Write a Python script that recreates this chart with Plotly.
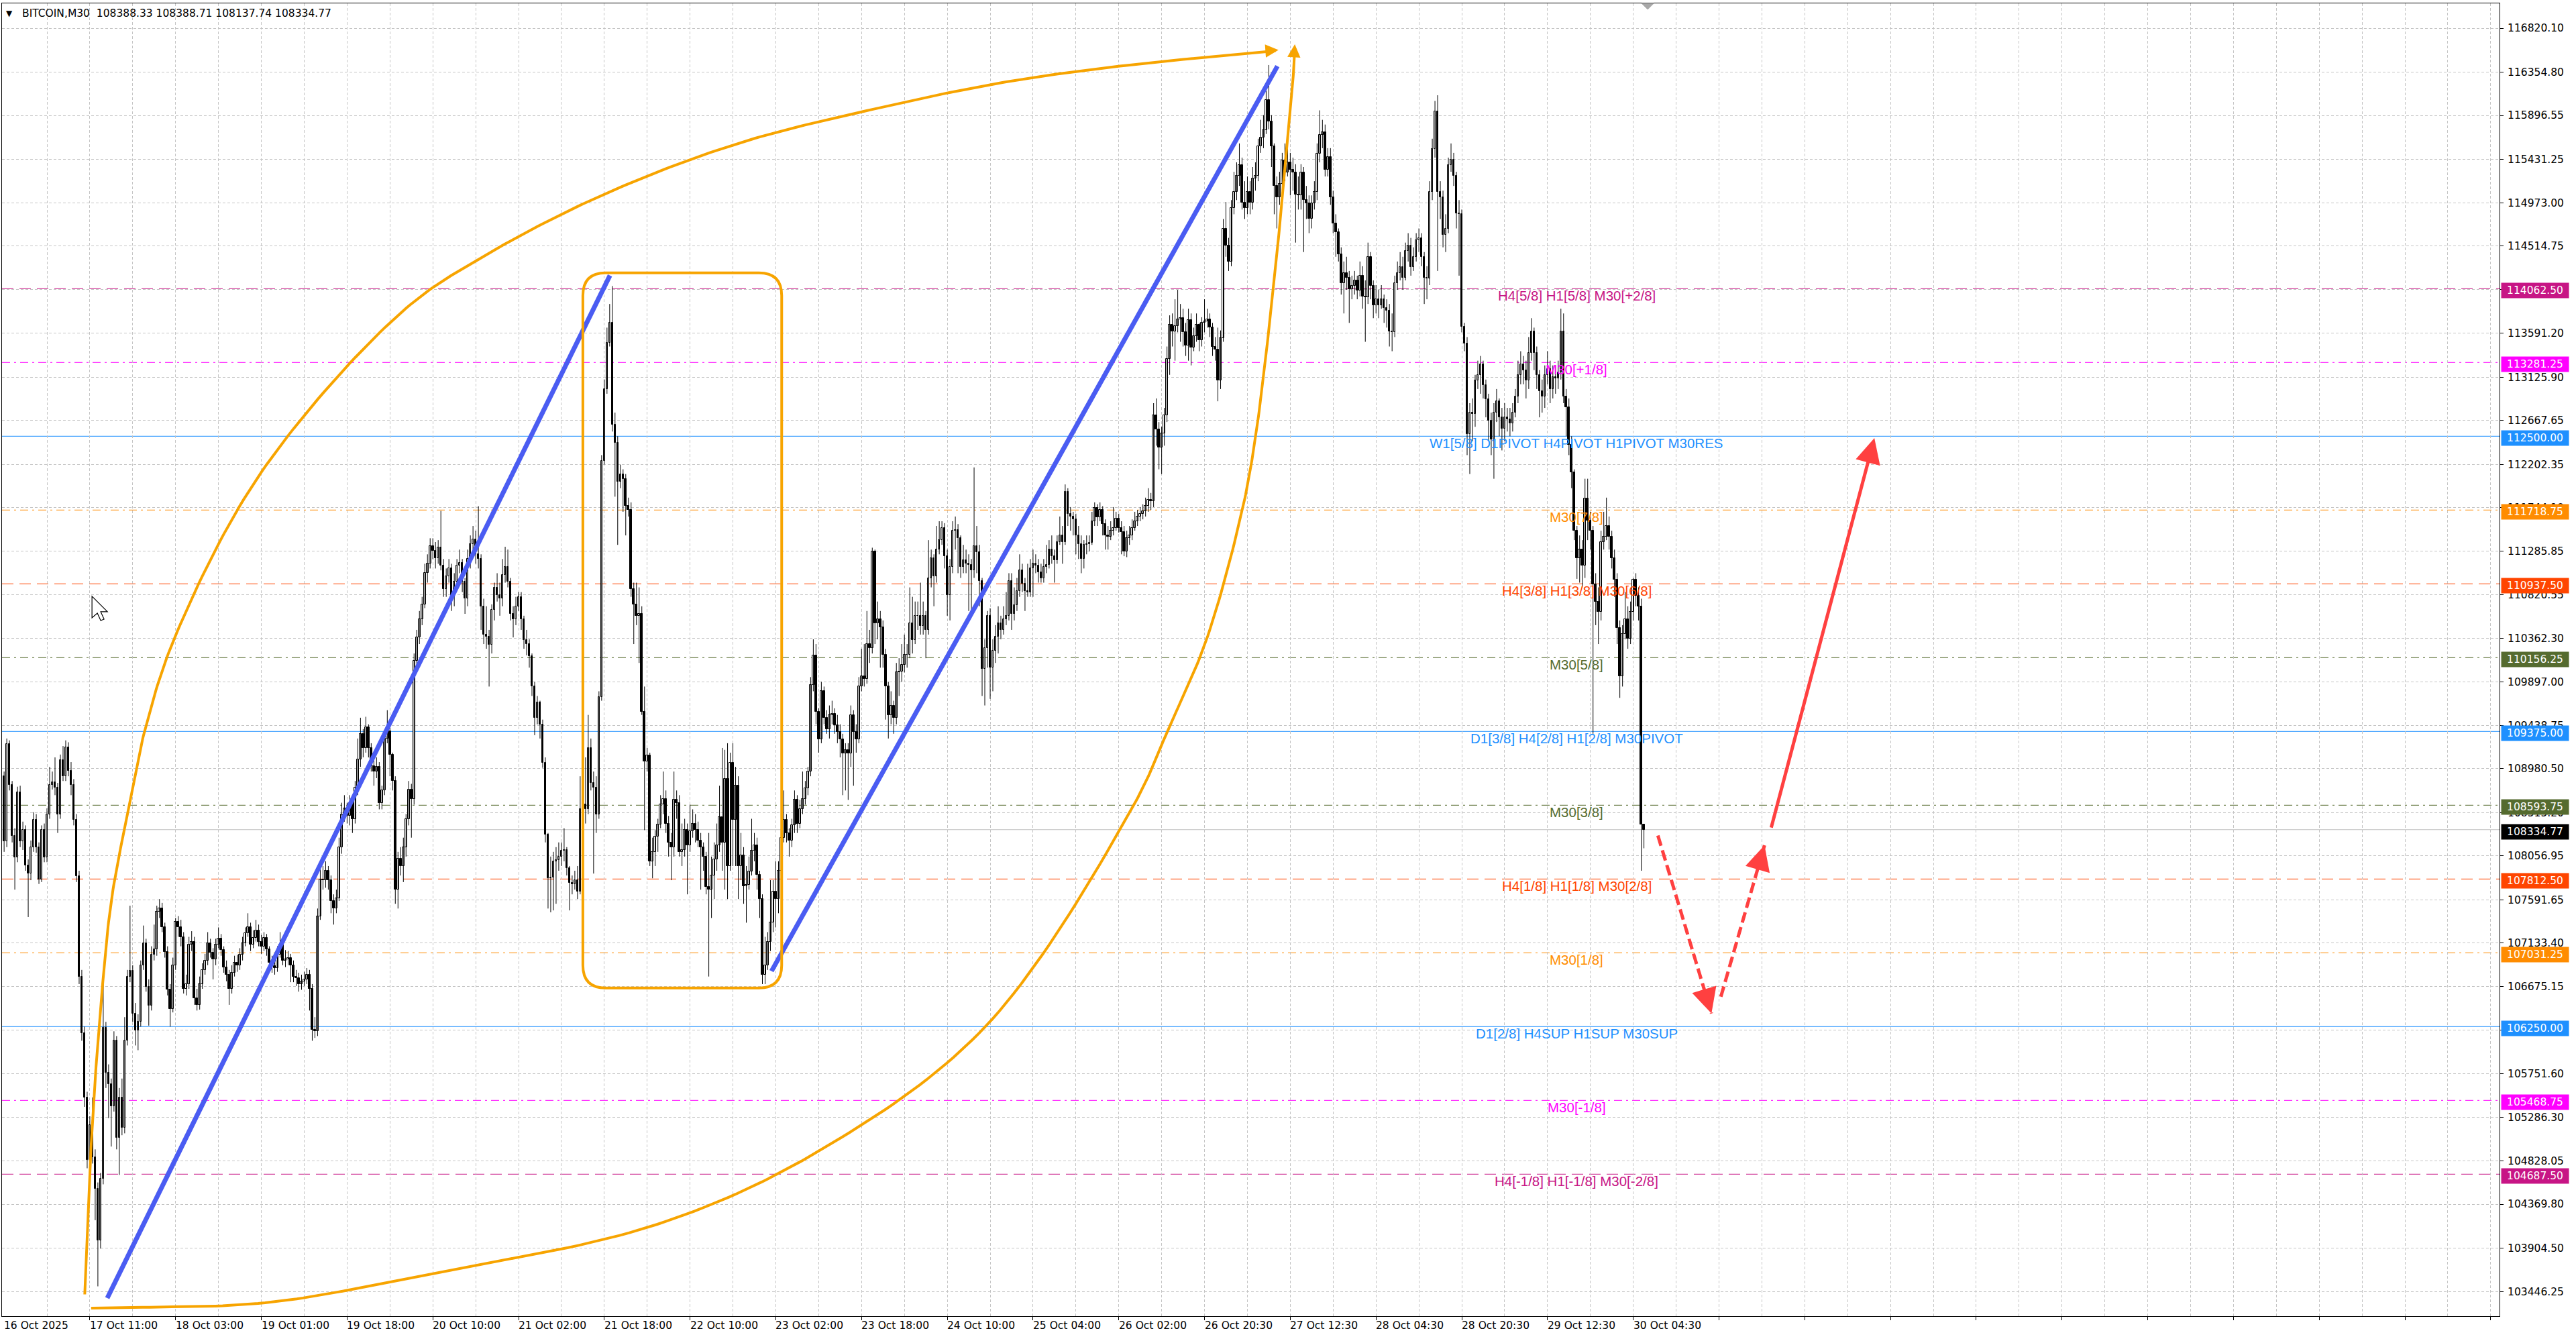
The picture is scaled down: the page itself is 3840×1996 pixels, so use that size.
import plotly.graph_objects as go

# ---------------- data ----------------
first_open = 108900.0

close = [
    108210, 109240, 108810, 108270, 108040, 108730, 108210, 108330, 107960, 107870,
    108150, 108440, 108150, 107810, 108330, 108040, 108500, 108810, 108840, 108780,
    108500, 109070, 108900, 109210, 108960, 108810, 108440, 107840, 106780, 106180,
    105500, 104840, 105210, 104870, 104530, 103990, 104640, 106240, 105760, 105640,
    105410, 106100, 105070, 105500, 105180, 106100, 106780, 106840, 106390, 106210,
    106300, 106900, 107130, 106670, 106470, 107010, 107070, 107470, 107500, 107300,
    107040, 106640, 106440, 106900, 107360, 107300, 107200, 106650, 106700, 107120,
    107150, 106550, 106480, 106700, 106850, 106950, 107130, 107030, 106960, 107120,
    107180, 107060, 106880, 106800, 106650, 106820, 106930, 106900, 107010, 107130,
    107240, 107300, 107120, 107190, 107270, 107150, 107100, 107190, 107070, 106930,
    106890, 106870, 107010, 107120, 106950, 106960, 106980, 106900, 106780, 106760,
    106700, 106730, 106750, 106800, 106650, 106220, 106200, 107420, 107810, 107800,
    107900, 107800, 107580, 107500, 107610, 108150, 108500, 108560, 108480, 108620,
    108450, 108780, 109080, 109350, 109200, 109420, 109200, 109010, 108950, 109000,
    108620, 108750, 109300, 109380, 109130, 108850, 107700, 108030, 107950, 108150,
    108450, 108760, 108660, 110120, 110370, 110560, 110720, 111050, 111150, 111340,
    111290, 111210, 111320, 111130, 110880, 111020, 111100, 110800, 110960, 111130,
    111160, 110960, 110780, 111200, 111360, 111410, 111250, 111200, 110700, 110400,
    110380, 110290, 110660, 110900, 110820, 110780, 111030, 111120, 110960, 110620,
    110560, 110700, 110800, 110560, 110340, 110300, 110170, 109850, 109520, 109680,
    109450, 109040, 108280, 107820, 107830, 108000, 108010, 108050, 108110, 108120,
    107930, 107770, 107760, 107800, 107680, 108550, 108600, 108550, 109200, 108830,
    108780, 108500, 109740, 112240, 113000, 113490, 113700, 112620, 112430, 112020,
    112100, 112050, 111760, 111720, 110880, 110720, 110600, 110620, 109580, 109060,
    109120, 108000, 108100, 108260, 108390, 108600, 108660, 108400, 108200, 108150,
    108650, 108620, 108100, 108120, 108330, 108170, 108320, 108400, 108330, 108220,
    108150, 108050, 107730, 107700, 107850, 108020, 108170, 108470, 108200, 108870,
    107950, 109040, 108440, 108800, 107950, 108060, 107740, 107750, 107890, 108110,
    108170, 107860, 107600, 106800, 106900, 107150, 107350, 107680, 107600, 107900,
    108250, 108440, 108300, 108220, 108380, 108650, 108400, 108550, 108660, 108770,
    108950, 109870, 110180, 109580, 109290, 109800, 109520, 109400, 109550, 109560,
    109440, 109370, 109290, 109140, 109180, 109140, 109550, 109370, 109290, 109850,
    109960, 109930, 110300, 110260, 111280, 110520, 110560, 110480, 110190, 109850,
    109550, 109650, 109520, 110000, 110010, 110080, 110190, 110190, 110520, 110340,
    110600, 110600, 110490, 110600, 110450, 111000, 111210, 111020, 111300, 111400,
    111530, 111230, 110820, 111120, 111500, 111510, 111420, 111120, 111190, 111150,
    111140, 111080, 111340, 111270, 110970, 110040, 110260, 110600, 110050, 110230,
    110380, 110520, 110450, 110560, 110600, 110970, 110620, 110710, 110860, 111080,
    110940, 110860, 110850, 111100, 111150, 111130, 111060, 111000, 111120, 111140, 111300,
    111230, 111190, 111380, 111450, 111380, 111910, 111680, 111650, 111620, 111450,
    111360, 111200, 111350, 111360, 111370, 111600, 111740, 111640, 111720, 111570,
    111450, 111440, 111500, 111530, 111630, 111530, 111490, 111280, 111420, 111450,
    111530, 111600, 111650, 111680, 111710, 111760, 111830, 111810, 112720, 112570,
    112380, 112530, 112720, 113320, 113680, 113610, 113670, 113740, 113750, 113600,
    113460, 113730, 113440, 113560, 113680, 113520, 113700, 113720, 113740, 113650,
    113450, 113420, 113090, 113540, 114700, 114520, 114350, 114920, 115090, 115260,
    115370, 114975, 114920, 115090, 114975, 115230, 115260, 115570, 115660, 115740,
    116060, 115830, 115570, 115150, 115030, 115170, 115420, 115290, 115400, 115320,
    115290, 115060, 115050, 115290, 115000, 114970, 114800, 114970, 115090, 115490,
    115690, 115720, 115320, 115460, 115030, 114750, 114660, 114430, 114120, 114230,
    114180, 114060, 114090, 114150, 114040, 114200, 113980, 113970, 114400, 114090,
    113890, 113950, 113890, 113950, 113860, 113830, 113610, 113600, 114120, 114230,
    114290, 114180, 114460, 114520, 114290, 114400, 114575, 114600, 114400, 114175,
    114170, 115090, 115545, 115940, 115090, 115030, 114630, 114700, 115370, 115430,
    115260, 114860, 114850, 113660, 113480, 112520, 112750, 112740, 113090, 113150,
    113260, 113040, 112890, 112665, 112470, 112750, 112870, 112700, 112580, 112700, 112680,
    112640, 112750, 112920, 113150, 113260, 113200, 113090, 113380, 113610, 113380,
    113150, 112980, 112920, 113150, 113210, 113000, 113130, 113110, 113180, 113610,
    112920, 112810, 112410, 112120, 111500, 111210, 111300, 111130, 111840, 111610,
    111500, 110930, 110750, 110640, 111380, 111440, 111550, 111440, 111210, 110985,
    110470, 109960, 110410, 110560, 110360, 110640, 110985, 110810, 110700, 108388.33,
    108334.77,
]

high = [
    108950, 109300, 109280, 108850, 108350, 108790, 108800, 108420, 108380, 108020,
    108220, 108520, 108500, 108200, 108380, 108400, 108560, 109000, 108950, 109100,
    108830, 109130, 109220, 109280, 109260, 109050, 108870, 108500, 107900, 106850,
    106250, 105560, 105300, 105500, 104950, 104600, 104700, 106700, 106300, 105850,
    105700, 106200, 106150, 105600, 105700, 106350, 106850, 107530, 106900, 106500,
    106380, 106950, 107320, 107180, 106750, 107100, 107330, 107530, 107600, 107560,
    107350, 107100, 106700, 106980, 107400, 107420, 107380, 107250, 106800, 107200,
    107260, 107200, 106650, 106780, 106920, 107020, 107250, 107180, 107080, 107180,
    107300, 107230, 107100, 106950, 106850, 106900, 107000, 107010, 107080, 107200,
    107300, 107450, 107350, 107270, 107380, 107330, 107220, 107250, 107230, 107100,
    107000, 106950, 107100, 107250, 107160, 107060, 107050, 107020, 106950, 106850,
    106820, 106800, 106830, 106870, 106850, 106700, 106350, 107500, 108000, 107950,
    108000, 107950, 107850, 107650, 107700, 108250, 108620, 108700, 108620, 108700,
    108680, 108850, 109300, 109520, 109400, 109530, 109450, 109250, 109080, 109100,
    109050, 108800, 109350, 109600, 109420, 109150, 108900, 108100, 108150, 108250,
    108500, 108850, 108820, 110200, 110450, 110650, 110800, 111150, 111250, 111420,
    111420, 111380, 111400, 111710, 111200, 111100, 111200, 111150, 111050, 111200,
    111300, 111200, 111000, 111300, 111450, 111550, 111500, 111760, 111250, 110780,
    110700, 110450, 110720, 110950, 111050, 110950, 111200, 111330, 111300, 111000,
    110700, 110800, 110850, 110850, 110600, 110450, 110350, 110200, 109900, 109750,
    109700, 109500, 109100, 108300, 108050, 108100, 108150, 108200, 108200, 108350,
    108150, 107950, 107850, 107900, 107950, 108900, 108700, 109100, 109550, 109300,
    108950, 108900, 109800, 112300, 113100, 113650, 113900, 114090, 112750, 112500,
    112200, 112150, 112100, 111850, 111800, 110950, 110950, 110900, 110700, 109850,
    109200, 109150, 108250, 108330, 108450, 108700, 108950, 108750, 108480, 108300,
    108950, 108750, 108700, 108400, 108450, 108400, 108600, 108550, 108500, 108420,
    108300, 108200, 108100, 108300, 108050, 108200, 108400, 108800, 109200, 109180,
    109250, 109150, 109250, 109000, 108900, 108300, 108150, 107950, 108050, 108450,
    108300, 108250, 107900, 107650, 107200, 107250, 107800, 107800, 108000, 108000,
    108350, 108750, 108500, 108350, 108450, 108750, 108700, 108650, 108950, 108850,
    109000, 109950, 110350, 110300, 109620, 109900, 109850, 109600, 109650, 109700,
    109620, 109550, 109450, 109350, 109250, 109250, 109650, 109600, 109450, 109950,
    110250, 110300, 110650, 110450, 111320, 111300, 110750, 110650, 110550, 110250,
    109900, 109800, 109700, 110100, 110150, 110300, 110400, 110300, 110900, 110800,
    110750, 110750, 110950, 110750, 110650, 111400, 111300, 111250, 111550, 111600,
    111600, 111580, 111300, 111200, 111600, 111650, 111570, 111450, 111350, 111300,
    111250, 111200, 112170, 111550, 111350, 111000, 110350, 110650, 110680, 110350,
    110500, 110700, 110600, 110700, 110850, 111050, 111050, 110900, 111000, 111250,
    111150, 111000, 111150, 111200, 111300, 111250, 111200, 111150, 111200, 111350, 111400,
    111450, 111300, 111450, 111650, 111550, 111990, 111950, 111750, 111700, 111680,
    111550, 111450, 111400, 111450, 111450, 111700, 111800, 111780, 111800, 111760,
    111620, 111550, 111600, 111750, 111700, 111680, 111600, 111550, 111500, 111550,
    111620, 111700, 111720, 111750, 111780, 111850, 111950, 111900, 112850, 112900,
    112650, 112600, 112800, 113450, 113780, 113800, 113950, 114050, 113900, 113850,
    113700, 113850, 113800, 113650, 113800, 113700, 113760, 113950, 113850, 113800,
    113700, 113550, 113650, 113620, 114800, 114980, 114600, 115000, 115300, 115400,
    115600, 115450, 115200, 115250, 115200, 115350, 115400, 115650, 115850, 115900,
    116200, 116430, 115900, 115600, 115250, 115300, 115500, 115600, 115650, 115500,
    115450, 115380, 115250, 115380, 115350, 115150, 115050, 115050, 115200, 115600,
    115950, 115850, 115800, 115550, 115550, 115100, 114850, 114700, 114500, 114350,
    114400, 114250, 114200, 114250, 114200, 114350, 114300, 114150, 114550, 114450,
    114150, 114100, 114050, 114100, 114000, 113950, 113900, 113800, 114200, 114350,
    114450, 114400, 114550, 114650, 114600, 114500, 114650, 114700, 114650, 114450,
    114300, 115200, 115650, 116050, 116110, 115200, 115100, 114850, 115450, 115600,
    115500, 115300, 115000, 114900, 113700, 113550, 112850, 112900, 113150, 113300,
    113350, 113300, 113100, 112950, 112750, 112850, 113000, 112900, 112800, 112850, 112800,
    112800, 112850, 113000, 113300, 113400, 113350, 113300, 113550, 113750, 113650,
    113450, 113200, 113100, 113250, 113400, 113300, 113250, 113250, 113300, 113850,
    113800, 113000, 112900, 112500, 112150, 111550, 111450, 111400, 112050, 112050,
    111700, 111550, 111050, 110900, 111500, 111700, 111850, 111650, 111500, 111300,
    111050, 110550, 110500, 110850, 110700, 110750, 111000, 111050, 110900, 110780,
    108388.71,
]

low = [
    108100, 108150, 108750, 108200, 107700, 107990, 108150, 108120, 107900, 107410,
    107800, 108100, 108090, 107760, 107780, 107990, 107990, 108450, 108760, 108700,
    108300, 108450, 108850, 108850, 108900, 108700, 108380, 107780, 106700, 106100,
    105400, 104750, 104780, 104800, 104200, 103500, 103900, 104580, 105600, 105280,
    104980, 105350, 104950, 104680, 105100, 105120, 106050, 106720, 106300, 106050,
    106000, 106250, 106850, 106620, 106260, 106420, 106950, 107000, 107400, 107250,
    106980, 106580, 106250, 106400, 106850, 107200, 107100, 106600, 106580, 106650,
    107050, 106480, 106420, 106430, 106650, 106800, 106900, 106980, 106750, 106900,
    107080, 107000, 106820, 106730, 106480, 106600, 106780, 106830, 106850, 106950,
    107100, 107200, 107050, 107080, 107150, 107100, 107020, 107050, 107000, 106870,
    106820, 106800, 106830, 106980, 106900, 106880, 106900, 106720, 106720, 106680,
    106620, 106640, 106680, 106700, 106420, 106100, 106130, 106150, 107380, 107700,
    107720, 107700, 107450, 107330, 107450, 107580, 108080, 108420, 108400, 108380,
    108300, 108400, 108700, 109000, 109100, 109150, 109100, 108950, 108800, 108880,
    108550, 108550, 108700, 109250, 108900, 108750, 107550, 107500, 107850, 107780,
    108050, 108380, 108250, 108600, 110050, 110300, 110500, 110680, 110950, 111100,
    111200, 111100, 111150, 111080, 110800, 110800, 110950, 110650, 110700, 110900,
    111050, 110850, 110620, 110700, 111100, 111300, 111150, 111100, 110450, 110300,
    110250, 109850, 110200, 110550, 110750, 110600, 110700, 110950, 110900, 110550,
    110370, 110500, 110650, 110450, 110250, 110180, 110050, 109750, 109335, 109450,
    109300, 108990, 108200, 107500, 107460, 107480, 107550, 107900, 107950, 108000,
    107850, 107480, 107650, 107700, 107600, 107650, 108200, 108400, 108500, 108750,
    107870, 108300, 108450, 109700, 112200, 112950, 113450, 112550, 111860, 111350,
    111950, 111700, 111450, 111650, 110800, 110300, 110500, 110100, 109550, 108330,
    108950, 107950, 107820, 107950, 108100, 108350, 108500, 108300, 108050, 107800,
    108050, 108450, 108050, 107950, 108050, 107650, 108100, 108250, 108200, 108150,
    107700, 107900, 107650, 106780, 107400, 107600, 107900, 108100, 107900, 107700,
    107600, 107900, 107950, 107950, 107600, 107800, 107550, 107350, 107700, 107850,
    108000, 107700, 107400, 106700, 106700, 106850, 107050, 107250, 107300, 107450,
    107850, 108200, 108200, 108050, 108150, 108300, 108300, 108350, 108500, 108600,
    108700, 108900, 109800, 109450, 109150, 109250, 109450, 109350, 109300, 109450,
    109350, 109250, 109100, 108700, 108750, 108650, 109000, 108800, 109150, 109250,
    109800, 109850, 109880, 110100, 110200, 110300, 110350, 110050, 110050, 109500,
    109300, 109450, 109350, 109450, 109750, 109900, 110000, 110050, 110150, 110200,
    110300, 110450, 110400, 110400, 110150, 110400, 110900, 110700, 110950, 111250,
    111350, 111100, 110600, 110550, 111050, 111300, 111050, 111000, 111050, 111050,
    110650, 110660, 111000, 111050, 110700, 109750, 109650, 110050, 109720, 109800,
    110100, 110200, 110350, 110400, 110500, 110550, 110450, 110550, 110650, 110800,
    110850, 110650, 110800, 110800, 110800, 111050, 110950, 110950, 110950, 111050, 111100,
    111150, 110950, 111150, 111350, 111150, 111350, 111550, 111500, 111450, 111250,
    111200, 111050, 111100, 111250, 111280, 111350, 111550, 111550, 111600, 111450,
    111300, 111300, 111400, 111450, 111500, 111480, 111250, 111230, 111220, 111350,
    111400, 111500, 111550, 111600, 111620, 111650, 111700, 111720, 111750, 112400,
    112150, 112100, 112400, 112650, 113150, 113450, 113300, 113600, 113500, 113450,
    113350, 113300, 113250, 113400, 113500, 113400, 113450, 113600, 113650, 113550,
    113350, 113300, 112870, 113000, 113500, 114400, 114250, 114300, 114850, 115000,
    115150, 114900, 114800, 114850, 114850, 114900, 115100, 115200, 115500, 115550,
    115700, 115750, 115350, 114850, 114700, 114950, 115100, 115200, 115250, 115050,
    115100, 114550, 114900, 114900, 114450, 114800, 114650, 114700, 114900, 115000,
    115400, 115550, 115250, 115250, 114950, 114650, 114400, 114350, 114000, 113800,
    114050, 113700, 113950, 114000, 113950, 113980, 113850, 113500, 113900, 113950,
    113750, 113800, 113750, 113850, 113700, 113650, 113450, 113400, 113550, 114050,
    114150, 114050, 114150, 114350, 114200, 114250, 114350, 114450, 114300, 113900,
    113950, 114100, 115000, 115450, 114250, 114800, 114500, 114450, 114650, 115300,
    115150, 114700, 114200, 113600, 113400, 112300, 112100, 112450, 112600, 113000,
    112950, 112900, 112700, 112450, 112300, 112050, 112650, 112500, 112350, 112450, 112550,
    112500, 112550, 112700, 112850, 113050, 113050, 112900, 113000, 113300, 113200,
    113000, 112700, 112750, 112800, 113050, 112850, 112900, 112950, 113000, 113100,
    112850, 112500, 112300, 111950, 111400, 110990, 110950, 110900, 111000, 111400,
    111300, 109350, 110500, 110300, 110550, 111300, 111400, 111300, 111100, 110800,
    110300, 109730, 109850, 110350, 110250, 110300, 110550, 110700, 110550, 107900,
    108137.74,
]

y_tick_values = [116820.10, 116354.80, 115896.55, 115431.25, 114973.00, 114514.75,
                 114056.50, 113591.20, 113125.90, 112667.65, 112202.35, 111744.10,
                 111285.85, 110820.55, 110362.30, 109897.00, 109438.75, 108980.50,
                 108515.20, 108056.95, 107591.65, 107133.40, 106675.15, 106209.85,
                 105751.60, 105286.30, 104828.05, 104369.80, 103904.50, 103446.25]

x_label_text = ["16 Oct 2025", "17 Oct 11:00", "18 Oct 03:00", "19 Oct 01:00",
                "19 Oct 18:00", "20 Oct 10:00", "21 Oct 02:00", "21 Oct 18:00",
                "22 Oct 10:00", "23 Oct 02:00", "23 Oct 18:00", "24 Oct 10:00",
                "25 Oct 04:00", "26 Oct 02:00", "26 Oct 20:30", "27 Oct 12:30",
                "28 Oct 04:30", "28 Oct 20:30", "29 Oct 12:30", "30 Oct 04:30"]
BARS_PER_LABEL = 32

level_prices = [114062.50, 113281.25, 112500.00, 111718.75, 110937.50, 110156.25,
                109375.00, 108593.75, 107812.50, 107031.25, 106250.00, 105468.75,
                104687.50]
level_labels = ["H4[5/8] H1[5/8] M30[+2/8]", "M30[+1/8]",
                "W1[5/8] D1PIVOT H4PIVOT H1PIVOT M30RES", "M30[7/8]",
                "H4[3/8] H1[3/8] M30[6/8]", "M30[5/8]",
                "D1[3/8] H4[2/8] H1[2/8] M30PIVOT", "M30[3/8]",
                "H4[1/8] H1[1/8] M30[2/8]", "M30[1/8]",
                "D1[2/8] H4SUP H1SUP M30SUP", "M30[-1/8]",
                "H4[-1/8] H1[-1/8] M30[-2/8]"]
level_colors = ["#C71585", "#FF00FF", "#1E90FF", "#FF8C00", "#FF4500", "#556B2F",
                "#1E90FF", "#556B2F", "#FF4500", "#FF8C00", "#1E90FF", "#FF00FF",
                "#C71585"]
DASH_LONG = "17px,9px"
DASH_DOT = "12px,6px,3px,6px"
level_dash = [DASH_LONG, DASH_DOT, "solid", DASH_DOT, DASH_LONG, DASH_DOT, "solid",
              DASH_DOT, DASH_LONG, DASH_DOT, "solid", DASH_DOT, DASH_LONG]
bid_price = 108334.77
title_text = "BITCOIN,M30\u00a0\u00a0108388.33 108388.71 108137.74 108334.77"

# hand-drawn objects on the chart (bar index, price)
trend1_x = [38.5, 226.1]
trend1_y = [103376, 114202]
trend2_x = [286.4, 475.2]
trend2_y = [106837, 116418]
arcA_x = [30.1, 31.1, 33.1, 36.0, 40.0, 46.0, 52.4, 63.8, 96.0, 148.7, 179.9,
          223.8, 273.9, 324.0, 374.0, 424.1, 456.7, 474.5]
arcA_y = [103415, 104157, 105300, 106440, 107580, 108497, 109373, 110378,
          112120, 113823, 114420, 115060, 115600, 115960, 116252, 116444, 116533, 116580]
arcB_x = [32.5, 97.4, 153.7, 243.8, 304.9, 366.3, 421.6, 434.6, 448.6, 461.7, 466.9,
          473.9, 478.7, 481.2, 481.6]
arcB_y = [103269, 103326, 103603, 104157, 104946, 106252, 108596, 109406, 110336,
          111671, 112466, 114122, 115550, 116351, 116560]
arcA_tip = (475.6, 116589)
arcB_tip = (481.7, 116650)
rect_x = [216.0, 290.2]
rect_y = [106658, 114229]
dash1 = [(617.2, 108273), (637.2, 106389)]
dash2 = [(640.7, 106566), (657.0, 108170)]
solid3 = [(659.4, 108347), (698.0, 112480)]
level_label_bar = 586.9
shift_marker_bar = 613.4
cursor_at = (32.8, 110805)

# ---------------- geometry / style ----------------
W, H = 3840, 1996
ML, MR, MT, MB = 3, 114, 5, 34
X_RANGE = [-0.78, 931.3]
Y_RANGE = [103184, 117083]
PX_PER_BAR = (W - ML - MR) / (X_RANGE[1] - X_RANGE[0])
PX_PER_USD = (H - MT - MB) / (Y_RANGE[1] - Y_RANGE[0])
AX_FONT = dict(family="DejaVu Sans", size=15.5, color="black")
LVL_FONT = "Liberation Sans"
GRID = "#C4C4C4"
BLUE = "#4A5CF2"
ORANGE = "#F7A400"
RED = "#FF4040"


def smooth_curve(xs, ys, samples=24, alpha=0.5):
    """Centripetal Catmull-Rom through the drawn curve's control points (pixel space)."""
    P = [((x - X_RANGE[0]) * PX_PER_BAR, (y - Y_RANGE[0]) * PX_PER_USD) for x, y in zip(xs, ys)]
    ext = [(2 * P[0][0] - P[1][0], 2 * P[0][1] - P[1][1])] + P + \
          [(2 * P[-1][0] - P[-2][0], 2 * P[-1][1] - P[-2][1])]

    def knot(t, a, b):
        return t + max(((b[0] - a[0]) ** 2 + (b[1] - a[1]) ** 2) ** (alpha / 2), 1e-6)

    def mix(a, b, wa, wb):
        return (a[0] * wa + b[0] * wb, a[1] * wa + b[1] * wb)

    out = []
    for i in range(1, len(ext) - 2):
        p0, p1, p2, p3 = ext[i - 1], ext[i], ext[i + 1], ext[i + 2]
        t0 = 0.0
        t1 = knot(t0, p0, p1)
        t2 = knot(t1, p1, p2)
        t3 = knot(t2, p2, p3)
        for k in range(samples):
            t = t1 + (t2 - t1) * k / samples
            a1 = mix(p0, p1, (t1 - t) / (t1 - t0), (t - t0) / (t1 - t0))
            a2 = mix(p1, p2, (t2 - t) / (t2 - t1), (t - t1) / (t2 - t1))
            a3 = mix(p2, p3, (t3 - t) / (t3 - t2), (t - t2) / (t3 - t2))
            b1 = mix(a1, a2, (t2 - t) / (t2 - t0), (t - t0) / (t2 - t0))
            b2 = mix(a2, a3, (t3 - t) / (t3 - t1), (t - t1) / (t3 - t1))
            out.append(mix(b1, b2, (t2 - t) / (t2 - t1), (t - t1) / (t2 - t1)))
    out.append(P[-1])
    return ([X_RANGE[0] + q[0] / PX_PER_BAR for q in out],
            [Y_RANGE[0] + q[1] / PX_PER_USD for q in out])


assert len(close) == len(high) == len(low)
n = len(close)
idx = list(range(n))
open_ = [first_open] + close[:-1]

fig = go.Figure()

# wicks
wx, wy = [], []
for i in idx:
    wx += [i, i, None]
    wy += [low[i], high[i], None]
fig.add_trace(go.Scatter(x=wx, y=wy, mode="lines", line=dict(color="black", width=1),
                         hoverinfo="skip"))
# bodies
base = [min(o, c) for o, c in zip(open_, close)]
height = [abs(c - o) for o, c in zip(open_, close)]
colors = ["white" if c >= o else "black" for o, c in zip(open_, close)]
fig.add_trace(go.Bar(x=idx, base=base, y=height, width=0.65,
                     marker=dict(color=colors, line=dict(color="black", width=1)),
                     hoverinfo="skip"))

# trend lines
for tx, ty in ((trend1_x, trend1_y), (trend2_x, trend2_y)):
    fig.add_trace(go.Scatter(x=tx, y=ty, mode="lines", line=dict(color=BLUE, width=7),
                             hoverinfo="skip"))
# orange arcs
for axs, ays in ((arcA_x, arcA_y), (arcB_x, arcB_y)):
    sx, sy = smooth_curve(axs, ays)
    fig.add_trace(go.Scatter(x=sx, y=sy, mode="lines",
                             line=dict(color=ORANGE, width=4),
                             hoverinfo="skip"))
# red dashed arrows
for seg in (dash1, dash2):
    fig.add_trace(go.Scatter(x=[seg[0][0], seg[1][0]], y=[seg[0][1], seg[1][1]],
                             mode="lines", line=dict(color=RED, width=5, dash="16px,7px"),
                             hoverinfo="skip"))

shapes = []
annotations = []

# level lines
for p, c, d in zip(level_prices, level_colors, level_dash):
    shapes.append(dict(type="line", xref="paper", x0=0, x1=1, yref="y", y0=p, y1=p,
                       line=dict(color=c, width=1, dash=d), layer="below"))
shapes.append(dict(type="line", xref="paper", x0=0, x1=1, yref="y", y0=bid_price,
                   y1=bid_price, line=dict(color="#C0C0C0", width=1), layer="below"))

# rounded rectangle
rpx = 34
rx = rpx / PX_PER_BAR
ry = rpx / PX_PER_USD
x0, x1 = rect_x
y0, y1 = rect_y
path = (f"M {x0+rx},{y1} L {x1-rx},{y1} Q {x1},{y1} {x1},{y1-ry} "
        f"L {x1},{y0+ry} Q {x1},{y0} {x1-rx},{y0} L {x0+rx},{y0} "
        f"Q {x0},{y0} {x0},{y0+ry} L {x0},{y1-ry} Q {x0},{y1} {x0+rx},{y1}")
shapes.append(dict(type="path", xref="x", yref="y", path=path,
                   line=dict(color=ORANGE, width=4), layer="above"))

# chart shift marker
shapes.append(dict(type="path", xref="x", xsizemode="pixel", xanchor=shift_marker_bar,
                   yref="paper", ysizemode="pixel", yanchor=1,
                   path="M -9,0 L 9,0 L 0,-9 Z", fillcolor="#A8A8A8",
                   line=dict(color="#A8A8A8", width=1), layer="above"))

# mouse pointer left on the chart
shapes.append(dict(type="path", xref="x", xsizemode="pixel", xanchor=cursor_at[0],
                   yref="y", ysizemode="pixel", yanchor=cursor_at[1],
                   path="M 0,0 L 0,-32 L 8,-25 L 13,-36 L 18,-34 L 13,-23 L 23,-23 Z",
                   fillcolor="white", line=dict(color="black", width=1.2), layer="above"))

# level text labels
for p, t, c in zip(level_prices, level_labels, level_colors):
    annotations.append(dict(x=level_label_bar, y=p, xref="x", yref="y", text=t,
                            showarrow=False, xanchor="center", yanchor="top", yshift=3,
                            font=dict(family=LVL_FONT, size=20.5, color=c)))

# price boxes on the axis
for p, c in list(zip(level_prices, level_colors)) + [(bid_price, "black")]:
    annotations.append(dict(x=1, y=p, xref="paper", yref="y", text=f"{p:.2f}",
                            showarrow=False, xanchor="left", yanchor="middle",
                            xshift=2, yshift=-3, width=100, height=22, align="center",
                            bgcolor=c, borderpad=0,
                            font=dict(family="DejaVu Sans", size=15.5, color="white")))

# x axis labels (left aligned, MT4 style)
for k, t in enumerate(x_label_text):
    annotations.append(dict(x=k * BARS_PER_LABEL, y=0, xref="x", yref="paper", text=t,
                            showarrow=False, xanchor="left", yanchor="top",
                            xshift=-2, yshift=-3, font=AX_FONT))

# title
annotations.append(dict(x=0, y=1, xref="paper", yref="paper", text="\u25BC",
                        showarrow=False, xanchor="left", yanchor="middle", xshift=4,
                        yshift=-15, font=dict(family="DejaVu Sans", size=12, color="black")))
annotations.append(dict(x=0, y=1, xref="paper", yref="paper", text=title_text,
                        showarrow=False, xanchor="left", yanchor="middle", xshift=28,
                        yshift=-15, font=AX_FONT))

# arrow heads
def head(tip, start, width, size):
    dxp = (tip[0] - start[0]) * PX_PER_BAR
    dyp = (tip[1] - start[1]) * PX_PER_USD
    L = (dxp ** 2 + dyp ** 2) ** 0.5
    return dict(x=tip[0], y=tip[1], xref="x", yref="y", showarrow=True,
                ax=-dxp / L * 18, ay=dyp / L * 18, arrowhead=2, arrowsize=size,
                arrowwidth=width, arrowcolor=RED, text="")

annotations.append(head(dash1[1], dash1[0], 5, 1.5))
annotations.append(head(dash2[1], dash2[0], 5, 1.5))
annotations.append(dict(x=solid3[1][0], y=solid3[1][1], xref="x", yref="y",
                        ax=solid3[0][0], ay=solid3[0][1], axref="x", ayref="y",
                        showarrow=True, arrowhead=2, arrowsize=1.5, arrowwidth=5,
                        arrowcolor=RED, text=""))
annotations.append(dict(x=arcA_tip[0], y=arcA_tip[1], xref="x", yref="y", showarrow=True,
                        ax=-14, ay=1, arrowhead=2, arrowsize=1.3, arrowwidth=3,
                        arrowcolor=ORANGE, text=""))
annotations.append(dict(x=arcB_tip[0], y=arcB_tip[1], xref="x", yref="y", showarrow=True,
                        ax=-1, ay=14, arrowhead=2, arrowsize=1.3, arrowwidth=3,
                        arrowcolor=ORANGE, text=""))

major_x = [k * BARS_PER_LABEL for k in range(1, 30)]
minor_x = [k * BARS_PER_LABEL + 16 for k in range(0, 30)]

fig.update_layout(
    width=W, height=H, margin=dict(l=ML, r=MR, t=MT, b=MB, pad=0),
    plot_bgcolor="white", paper_bgcolor="white", showlegend=False,
    bargap=0, hovermode=False,
    shapes=shapes, annotations=annotations,
    xaxis=dict(range=X_RANGE, tickmode="array", tickvals=major_x, showticklabels=False,
               ticks="outside", ticklen=5, tickcolor="black",
               showgrid=True, gridcolor=GRID, griddash="4px,3px", gridwidth=1,
               minor=dict(tickmode="array", tickvals=minor_x, showgrid=True,
                          gridcolor=GRID, griddash="4px,3px", ticks=""),
               showline=True, linecolor="black", linewidth=1, mirror=True,
               zeroline=False, fixedrange=True),
    yaxis=dict(range=Y_RANGE, side="right", tickmode="array", tickvals=y_tick_values,
               ticktext=[f"{v:.2f}" for v in y_tick_values], tickfont=AX_FONT,
               ticks="outside", ticklen=5, tickcolor="black", ticklabelstandoff=3,
               showgrid=True, gridcolor=GRID, griddash="4px,3px", gridwidth=1,
               showline=True, linecolor="black", linewidth=1, mirror=True,
               zeroline=False, fixedrange=True),
)

fig.write_html("out.html", config={"displayModeBar": False},
               post_script="document.body.style.margin='0';document.body.style.overflow='hidden';")
